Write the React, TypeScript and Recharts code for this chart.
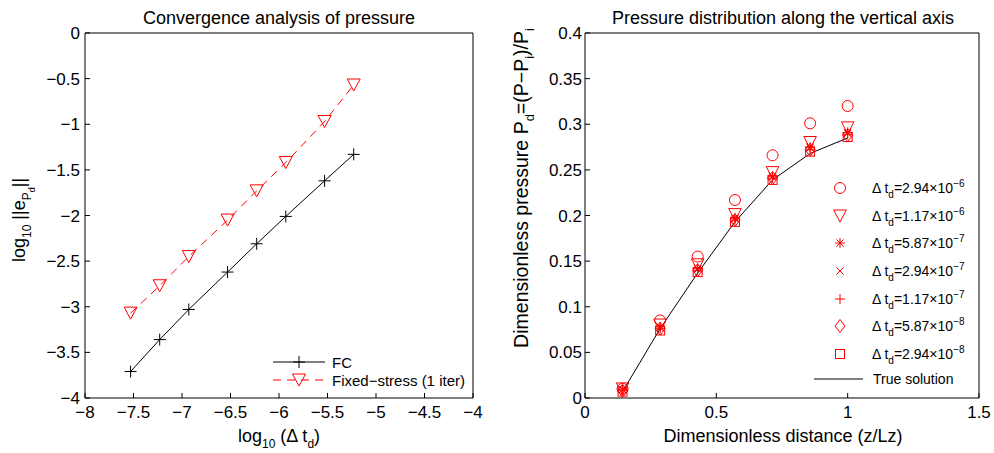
import React from "react";
import { ComposedChart, Line, Scatter, XAxis, YAxis, Legend, Label } from "recharts";

// left panel: convergence of the pressure error
const logDt = [-7.53, -7.23, -6.93, -6.53, -6.23, -5.93, -5.53, -5.23];
const fcError = [-3.71, -3.36, -3.03, -2.62, -2.31, -2.01, -1.62, -1.33];
const fixedStressError = [-3.07, -2.77, -2.45, -2.05, -1.73, -1.42, -0.97, -0.57];
const leftXTicks = [-8, -7.5, -7, -6.5, -6, -5.5, -5, -4.5, -4];
const leftYTicks = [-4, -3.5, -3, -2.5, -2, -1.5, -1, -0.5, 0];

// right panel: pressure along the vertical axis
const distance = [0.143, 0.286, 0.429, 0.571, 0.714, 0.857, 1.0];
const trueSolution = [0.007, 0.076, 0.137, 0.193, 0.239, 0.268, 0.285];
const dt294e6 = [0.010, 0.085, 0.155, 0.217, 0.266, 0.301, 0.320];
const dt117e6 = [0.010, 0.080, 0.146, 0.201, 0.247, 0.280, 0.296];
const dt587e7 = [0.009, 0.078, 0.142, 0.197, 0.243, 0.275, 0.291];
const dt294e7 = [0.009, 0.077, 0.141, 0.196, 0.242, 0.274, 0.290];
const dt117e7 = [0.008, 0.076, 0.140, 0.195, 0.241, 0.272, 0.289];
const dt587e8 = [0.008, 0.076, 0.140, 0.195, 0.241, 0.272, 0.288];
const dt294e8 = [0.007, 0.074, 0.138, 0.193, 0.239, 0.270, 0.286];
const rightXTicks = [0, 0.5, 1, 1.5];
const rightYTicks = [0, 0.05, 0.1, 0.15, 0.2, 0.25, 0.3, 0.35, 0.4];

const FONT = '"Liberation Sans", Arial, Helvetica, sans-serif';
const RED = "#ff0000";

const timeSeries = [
  { key: "s1", mant: "2.94", exp: "\u22126", kind: "circle", values: dt294e6 },
  { key: "s2", mant: "1.17", exp: "\u22126", kind: "triangle", values: dt117e6 },
  { key: "s3", mant: "5.87", exp: "\u22127", kind: "star", values: dt587e7 },
  { key: "s4", mant: "2.94", exp: "\u22127", kind: "cross", values: dt294e7 },
  { key: "s5", mant: "1.17", exp: "\u22127", kind: "plus", values: dt117e7 },
  { key: "s6", mant: "5.87", exp: "\u22128", kind: "diamond", values: dt587e8 },
  { key: "s7", mant: "2.94", exp: "\u22128", kind: "square", values: dt294e8 },
];

const leftData = logDt.map((x, i) => ({ logDt: x, fc: fcError[i], fs: fixedStressError[i] }));
const rightData = distance.map((z, i) => {
  const row: Record<string, number> = { z, exact: trueSolution[i] };
  timeSeries.forEach((s) => (row[s.key] = s.values[i]));
  return row;
});

const fmt = (v: number) => String(v).replace("-", "\u2212");

function Marker({ kind, cx, cy, color, big }: { kind: string; cx: number; cy: number; color: string; big?: boolean }) {
  const p = { fill: "none", stroke: color, strokeWidth: 1 };
  if (cx == null || cy == null) return null;
  switch (kind) {
    case "circle":
      return <circle cx={cx} cy={cy} r={5.5} {...p} />;
    case "triangle": {
      const w = big ? 6.5 : 6.3;
      return <polygon points={`${cx - w},${cy - 6} ${cx + w},${cy - 6} ${cx},${cy + 6}`} {...p} />;
    }
    case "star":
      return (
        <path
          d={`M${cx - 5},${cy}H${cx + 5}M${cx},${cy - 5}V${cy + 5}M${cx - 3.6},${cy - 3.6}L${cx + 3.6},${cy + 3.6}M${cx - 3.6},${cy + 3.6}L${cx + 3.6},${cy - 3.6}`}
          {...p}
        />
      );
    case "cross":
      return <path d={`M${cx - 3.5},${cy - 3.5}L${cx + 3.5},${cy + 3.5}M${cx - 3.5},${cy + 3.5}L${cx + 3.5},${cy - 3.5}`} {...p} />;
    case "plus": {
      const s = big ? 6 : 5;
      return <path d={`M${cx - s},${cy}H${cx + s}M${cx},${cy - s}V${cy + s}`} {...p} />;
    }
    case "diamond":
      return <polygon points={`${cx},${cy - 6.5} ${cx + 5},${cy} ${cx},${cy + 6.5} ${cx - 5},${cy}`} {...p} />;
    case "square":
      return <rect x={cx - 4.5} y={cy - 4.5} width={9} height={9} {...p} />;
    default:
      return null;
  }
}

const axisCommon = {
  stroke: "#000",
  tickSize: -5,
  interval: 0 as const,
  allowDataOverflow: true,
  tick: { fill: "#000", fontSize: 17, fontFamily: FONT },
  tickLine: { stroke: "#000" },
};

function LeftLegend() {
  const row = { display: "flex", alignItems: "center", height: 18, fontSize: 15, fontFamily: FONT, color: "#000" };
  return (
    <div>
      <div style={row}>
        <svg width={53} height={18}>
          <line x1={0} y1={9} x2={52} y2={9} stroke="#000" />
          <Marker kind="plus" cx={26} cy={9} color="#000" big />
        </svg>
        <span style={{ marginLeft: 6 }}>FC</span>
      </div>
      <div style={row}>
        <svg width={53} height={18}>
          <line x1={0} y1={9} x2={52} y2={9} stroke={RED} strokeDasharray="8 6" />
          <Marker kind="triangle" cx={26} cy={9} color={RED} big />
        </svg>
        <span style={{ marginLeft: 6, whiteSpace: "nowrap" }}>Fixed{"\u2212"}stress (1 iter)</span>
      </div>
    </div>
  );
}

function RightLegend() {
  const row = { display: "flex", alignItems: "center", height: 27.7, fontSize: 14, fontFamily: FONT, color: "#000" };
  const small = { fontSize: 10, position: "relative" as const };
  return (
    <div>
      {timeSeries.map((s) => (
        <div key={s.key} style={row}>
          <svg width={60} height={28}>
            <Marker kind={s.kind} cx={30} cy={14} color={RED} />
          </svg>
          <span style={{ marginLeft: 2, whiteSpace: "nowrap" }}>
            {"\u0394 t"}
            <span style={{ ...small, top: 5 }}>d</span>={s.mant}
            {"\u00d7"}10<span style={{ ...small, top: -6 }}>{s.exp}</span>
          </span>
        </div>
      ))}
      <div style={{ ...row, height: 22 }}>
        <svg width={60} height={22}>
          <line x1={4} y1={11} x2={53} y2={11} stroke="#000" />
        </svg>
        <span style={{ marginLeft: 3 }}>True solution</span>
      </div>
    </div>
  );
}

const textStyle = { fontFamily: FONT, fontSize: 18, fill: "#000" };

function ConvergenceChart() {
  return (
    <ComposedChart width={500} height={453} data={leftData} margin={{ top: 32, right: 26, bottom: 25, left: 25 }}>
      <XAxis {...axisCommon} type="number" dataKey="logDt" domain={[-8, -4]} ticks={leftXTicks} tickMargin={13} height={30} tickFormatter={fmt}>
        <Label
          content={() => (
            <text x={279} y={442} textAnchor="middle" style={textStyle}>
              <tspan>log</tspan>
              <tspan dy={6} fontSize={12}>10</tspan>
              <tspan dy={-6}> ({"\u0394"} t</tspan>
              <tspan dy={6} fontSize={12}>d</tspan>
              <tspan dy={-6}>)</tspan>
            </text>
          )}
        />
      </XAxis>
      <XAxis {...axisCommon} xAxisId="top" orientation="top" type="number" domain={[-8, -4]} ticks={leftXTicks} tick={false} height={1}>
        <Label
          content={() => (
            <text x={279} y={24} textAnchor="middle" style={textStyle}>
              Convergence analysis of pressure
            </text>
          )}
        />
      </XAxis>
      <YAxis {...axisCommon} type="number" domain={[-4, 0]} ticks={leftYTicks} tickMargin={10} width={60} tickFormatter={fmt}>
        <Label
          content={() => (
            <text transform="translate(25,220) rotate(-90)" textAnchor="middle" style={textStyle}>
              <tspan>log</tspan>
              <tspan dy={6} fontSize={12}>10</tspan>
              <tspan dy={-6}> ||e</tspan>
              <tspan dy={6} fontSize={12}>P</tspan>
              <tspan dy={4} fontSize={9}>d</tspan>
              <tspan dy={-10}>||</tspan>
            </text>
          )}
        />
      </YAxis>
      <YAxis {...axisCommon} yAxisId="right" orientation="right" type="number" domain={[-4, 0]} ticks={leftYTicks} tick={false} width={1} />
      <Line
        type="linear"
        dataKey="fc"
        stroke="#000"
        strokeWidth={1}
        isAnimationActive={false}
        dot={(props: any) => <Marker key={props.index} kind="plus" cx={props.cx} cy={props.cy} color="#000" big />}
      />
      <Line
        type="linear"
        dataKey="fs"
        stroke={RED}
        strokeWidth={1}
        strokeDasharray="8 6"
        isAnimationActive={false}
        dot={(props: any) => <Marker key={props.index} kind="triangle" cx={props.cx} cy={props.cy} color={RED} big />}
      />
      <Legend
        layout="vertical"
        align="center"
        verticalAlign="middle"
        content={() => <LeftLegend />}
        wrapperStyle={{ left: 273, top: 353, width: 220, height: 36 }}
      />
    </ComposedChart>
  );
}

function DistributionChart() {
  return (
    <ComposedChart width={494} height={453} data={rightData} margin={{ top: 32, right: 14, bottom: 25, left: 25 }}>
      <XAxis {...axisCommon} type="number" dataKey="z" domain={[0, 1.5]} ticks={rightXTicks} tickMargin={13} height={30}>
        <Label
          content={() => (
            <text x={283} y={442} textAnchor="middle" style={textStyle}>
              Dimensionless distance (z/Lz)
            </text>
          )}
        />
      </XAxis>
      <XAxis {...axisCommon} xAxisId="top" orientation="top" type="number" domain={[0, 1.5]} ticks={rightXTicks} tick={false} height={1}>
        <Label
          content={() => (
            <text x={283} y={24} textAnchor="middle" style={textStyle}>
              Pressure distribution along the vertical axis
            </text>
          )}
        />
      </XAxis>
      <YAxis {...axisCommon} type="number" domain={[0, 0.4]} ticks={rightYTicks} tickMargin={8} width={60}>
        <Label
          content={() => (
            <text transform="translate(28,188) rotate(-90)" textAnchor="middle" style={{ ...textStyle, fontSize: 19.5 }}>
              <tspan>Dimensionless pressure P</tspan>
              <tspan dy={6} fontSize={13}>d</tspan>
              <tspan dy={-6}>=(P{"\u2212"}P</tspan>
              <tspan dy={6} fontSize={13}>i</tspan>
              <tspan dy={-6}>)/P</tspan>
              <tspan dy={6} fontSize={13}>i</tspan>
            </text>
          )}
        />
      </YAxis>
      <YAxis {...axisCommon} yAxisId="right" orientation="right" type="number" domain={[0, 0.4]} ticks={rightYTicks} tick={false} width={1} />
      <Line type="linear" dataKey="exact" stroke="#000" strokeWidth={1} dot={false} isAnimationActive={false} />
      {timeSeries.map((s) => (
        <Scatter
          key={s.key}
          dataKey={s.key}
          isAnimationActive={false}
          shape={(props: any) => <Marker kind={s.kind} cx={props.cx} cy={props.cy} color={RED} />}
        />
      ))}
      <Legend
        layout="vertical"
        align="center"
        verticalAlign="middle"
        content={() => <RightLegend />}
        wrapperStyle={{ left: 310, top: 174, width: 180, height: 220 }}
      />
    </ComposedChart>
  );
}

export default function App() {
  return (
    <div style={{ position: "absolute", left: 0, top: 0, width: 994, height: 453, background: "#fff" }}>
      <div style={{ position: "absolute", left: 0, top: 0 }}>
        <ConvergenceChart />
      </div>
      <div style={{ position: "absolute", left: 500, top: 0 }}>
        <DistributionChart />
      </div>
    </div>
  );
}
